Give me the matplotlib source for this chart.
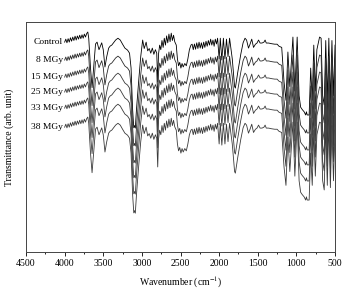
#!/usr/bin/env python3
# -*- coding: utf-8 -*-
import numpy as np
import matplotlib
matplotlib.use('Agg')
import matplotlib.pyplot as plt
from matplotlib.ticker import MultipleLocator

# Control spectrum (wavenumber, transmittance in arbitrary units)
wavenumber = [
    4000, 3985, 3970, 3955, 3940, 3925, 3910, 3895, 3880, 3865, 3850, 3835,
    3820, 3805, 3790, 3775, 3760, 3745, 3730, 3715, 3700, 3688, 3665, 3645,
    3625, 3600, 3580, 3555, 3520, 3500, 3478, 3455, 3430, 3410, 3390, 3370,
    3340, 3310, 3280, 3250, 3220, 3185, 3160, 3140, 3120, 3105, 3095, 3085,
    3070, 3040, 3015, 2990, 2970, 2945, 2925, 2905, 2885, 2865, 2845, 2825,
    2808, 2795, 2785, 2770, 2755, 2740, 2725, 2710, 2695, 2680, 2665, 2650,
    2635, 2620, 2605, 2590, 2575, 2555, 2540, 2525, 2510, 2495, 2480, 2465,
    2445, 2425, 2405, 2385, 2365, 2350, 2335, 2320, 2305, 2290, 2275, 2260,
    2245, 2230, 2215, 2200, 2185, 2170, 2155, 2140, 2125, 2110, 2095, 2080,
    2065, 2050, 2035, 2020, 2000, 1985, 1965, 1945, 1925, 1905, 1885, 1865,
    1830, 1800, 1790, 1760, 1720, 1690, 1665, 1645, 1620, 1600, 1578, 1555,
    1530, 1510, 1490, 1470, 1445, 1420, 1405, 1390, 1360, 1320, 1280, 1250,
    1225, 1190, 1160, 1135, 1110, 1085, 1045, 1020, 990, 965, 945, 925,
    900, 880, 870, 860, 835, 815, 795, 775, 755, 735, 700, 680,
    660, 640, 620, 600, 580, 560, 540, 520, 500,
]
control = [
    91.3, 92.6, 91.0, 92.8, 91.3, 93.2, 91.7, 93.5, 92.0, 93.9, 92.2, 94.0,
    92.6, 94.3, 92.8, 94.5, 93.0, 94.8, 93.5, 95.0, 95.7, 93.0, 80.0, 71.5,
    80.0, 90.5, 91.3, 88.0, 91.0, 88.0, 80.5, 85.0, 88.7, 89.6, 90.0, 90.9,
    92.2, 93.0, 92.2, 90.4, 88.7, 87.8, 86.5, 80.0, 62.0, 54.0, 55.0, 53.9,
    62.0, 75.0, 85.0, 92.2, 88.5, 91.3, 87.5, 88.5, 86.5, 88.7, 86.0, 88.0,
    86.5, 74.0, 86.0, 90.0, 88.0, 92.0, 89.0, 93.0, 90.0, 94.0, 91.0, 94.8,
    91.5, 95.2, 92.0, 94.3, 91.5, 90.0, 84.0, 81.0, 82.5, 80.0, 82.0, 80.5,
    82.0, 81.0, 84.0, 88.0, 90.0, 90.4, 88.0, 90.5, 88.2, 91.0, 88.5, 91.3,
    88.7, 91.0, 88.5, 91.3, 89.0, 91.7, 89.5, 92.0, 90.0, 92.6, 90.0, 92.2,
    89.5, 92.6, 90.5, 93.0, 84.0, 93.0, 83.5, 93.0, 84.0, 92.6, 85.0, 93.0,
    84.0, 72.0, 71.3, 78.0, 86.0, 91.0, 93.0, 92.2, 88.7, 90.4, 92.6, 89.0,
    90.4, 90.9, 92.2, 90.9, 90.9, 91.3, 92.2, 90.9, 90.9, 90.6, 90.4, 90.4,
    89.5, 89.0, 74.0, 66.0, 87.0, 72.0, 93.5, 70.0, 93.5, 68.0, 63.0, 62.0,
    61.0, 59.6, 61.0, 59.6, 59.6, 80.0, 66.0, 90.0, 70.0, 88.0, 93.5, 93.0,
    68.0, 64.0, 92.0, 66.0, 93.0, 65.0, 92.0, 68.0, 90.0,
]

# dose labels and vertical offset of each trace
doses = ['Control', '8 MGy', '15 MGy', '25 MGy', '33 MGy', '38 MGy']
offsets = [0.0, 7.8, 15.2, 21.7, 28.7, 37.0]
colors = ['#000000', '#2a2a2a', '#3a3a3a', '#3a3a3a', '#3a3a3a', '#3a3a3a']

xticks = [4500, 4000, 3500, 3000, 2500, 2000, 1500, 1000, 500]


def main():
    plt.rcParams['font.family'] = ['Liberation Serif', 'DejaVu Serif']
    plt.rcParams['mathtext.fontset'] = 'stix'

    fig = plt.figure(figsize=(3.44, 2.91), dpi=100)
    ax = fig.add_axes([0.0756, 0.134, 0.8983, 0.790])

    wn = np.array(wavenumber)
    base = np.array(control)
    for name, off, col in zip(doses, offsets, colors):
        ax.plot(wn, base - off, color=col, lw=0.6)
        ax.text(4020, base[0] - off, name, fontsize=6.8,
                ha='right', va='center')

    ax.set_xlim(4500, 500)
    ax.set_ylim(0, 100)
    ax.set_xticks(xticks)
    ax.set_xticklabels([str(t) for t in xticks])
    ax.xaxis.set_minor_locator(MultipleLocator(250))
    ax.set_yticks([])
    ax.tick_params(axis='x', which='major', direction='out', length=3,
                   width=0.6, labelsize=7, pad=2, top=False)
    ax.tick_params(axis='x', which='minor', direction='out', length=1.5,
                   width=0.6, top=False)
    for s in ax.spines.values():
        s.set_linewidth(0.7)
        s.set_color('#444444')

    ax.set_xlabel('Wavenumber (cm$^{-1}$)', fontsize=7, labelpad=5)
    ax.set_ylabel('Transmittance (arb. unit)', fontsize=7, labelpad=9)

    fig.savefig('out.png', dpi=100)


if __name__ == "__main__":
    main()
